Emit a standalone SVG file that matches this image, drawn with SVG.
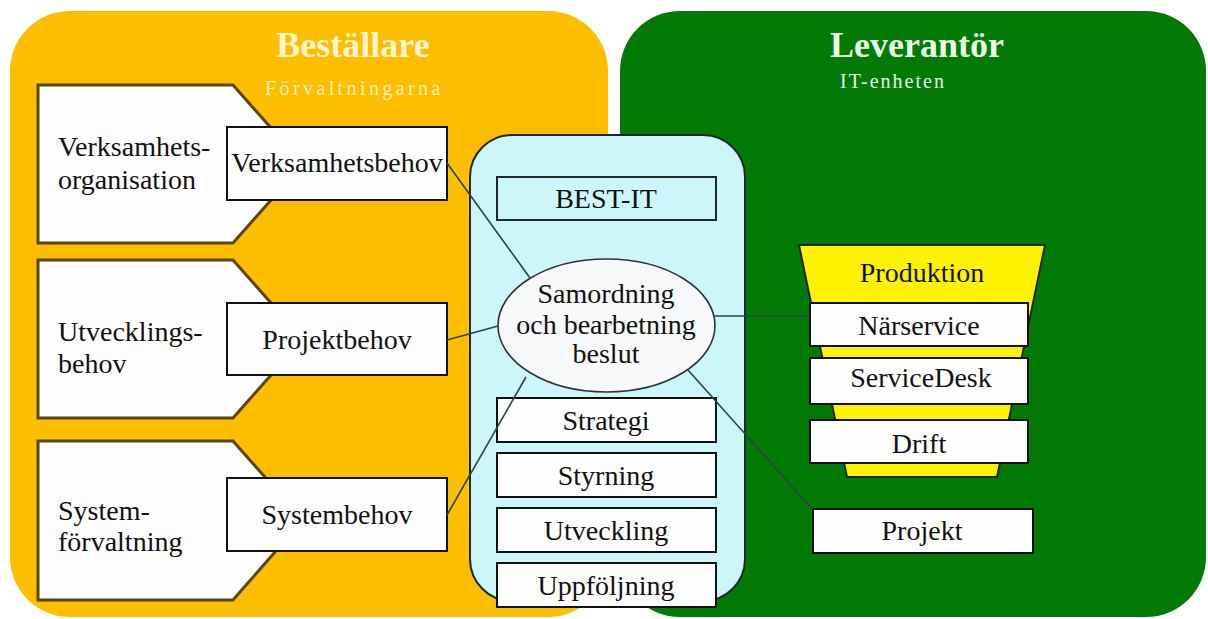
<svg xmlns="http://www.w3.org/2000/svg" width="1208" height="619" viewBox="0 0 1208 619">
<style>
.t{font-family:"Liberation Serif","Times New Roman",serif;font-size:28px;fill:#111}
.c{text-anchor:middle}
.box{fill:#FDFDFD;stroke:#111;stroke-width:2}
.pent{fill:#FDFDFD;stroke:#5A4510;stroke-width:3}
.conn{fill:none;stroke:#2A4444;stroke-width:1.6}
.title{font-family:"Liberation Serif","Times New Roman",serif;font-weight:bold;font-size:36px;text-anchor:middle}
.sub{font-family:"Liberation Serif","Times New Roman",serif;font-size:20px}
</style>
<rect width="1208" height="619" fill="#FFFFFF"/>
<g id="bestallare">
<rect x="10" y="11" width="598" height="606" rx="60" ry="60" fill="#FDBE00"/>
<text class="title" x="353" y="57" fill="#FFF4CC">Beställare</text>
<text class="sub" x="265" y="95" fill="#FFF0B8" letter-spacing="3.4">Förvaltningarna</text>
</g>
<g id="leverantor">
<rect x="620" y="11" width="586" height="606" rx="60" ry="60" fill="#037A06"/>
<text class="title" x="917" y="57" fill="#E8FFE4">Leverantör</text>
<text class="sub" x="840" y="88" fill="#E4F6E4" letter-spacing="2">IT-enheten</text>
</g>
<g id="verksamhetsorganisation">
<polygon class="pent" points="38,85 233,85 303,164 233,243 38,243"/>
<text class="t" x="58" y="156">Verksamhets-</text>
<text class="t" x="58" y="189">organisation</text>
</g>
<g id="utvecklingsbehov">
<polygon class="pent" points="38,260 233,260 303,339 233,418 38,418"/>
<text class="t" x="58" y="341">Utvecklings-</text>
<text class="t" x="58" y="373">behov</text>
</g>
<g id="systemforvaltning">
<polygon class="pent" points="38,441 233,441 303,520 233,600 38,600"/>
<text class="t" x="58" y="520">System-</text>
<text class="t" x="58" y="551">förvaltning</text>
</g>
<g id="verksamhetsbehov">
<rect class="box" x="227" y="127" width="220" height="73"/>
<text class="t c" x="337" y="172">Verksamhetsbehov</text>
</g>
<g id="projektbehov">
<rect class="box" x="227" y="303" width="220" height="72"/>
<text class="t c" x="337" y="349">Projektbehov</text>
</g>
<g id="systembehov">
<rect class="box" x="227" y="478" width="220" height="73"/>
<text class="t c" x="337" y="524">Systembehov</text>
</g>
<g id="best-it-container">
<rect x="470" y="135" width="275" height="466" rx="42" ry="42" fill="#CCF6FA" stroke="#1E2A2A" stroke-width="2"/>
</g>
<g id="best-it">
<rect x="497" y="177" width="219" height="43" fill="#CCF6FA" stroke="#1E2A2A" stroke-width="2"/>
<text class="t c" x="606" y="208">BEST-IT</text>
</g>
<g id="samordning">
<ellipse cx="606.5" cy="325.5" rx="108.5" ry="66.5" fill="#F7F8F9" stroke="#333" stroke-width="1.6"/>
<text class="t c" x="606" y="303">Samordning</text>
<text class="t c" x="606" y="334">och bearbetning</text>
<text class="t c" x="606" y="363">beslut</text>
</g>
<g id="strategi">
<rect class="box" x="497" y="398" width="219" height="44"/>
<text class="t c" x="606" y="430">Strategi</text>
</g>
<g id="styrning">
<rect class="box" x="497" y="453" width="219" height="44"/>
<text class="t c" x="606" y="485">Styrning</text>
</g>
<g id="utveckling">
<rect class="box" x="497" y="508" width="219" height="44"/>
<text class="t c" x="606" y="540">Utveckling</text>
</g>
<g id="uppfoljning">
<rect class="box" x="497" y="563" width="219" height="44"/>
<text class="t c" x="606" y="595">Uppföljning</text>
</g>
<g id="produktion">
<polygon points="799,245 1045,245 997,477 847,477" fill="#FFF200" stroke="#1A2A10" stroke-width="2"/>
<text class="t c" x="922" y="282">Produktion</text>
</g>
<g id="narservice">
<rect class="box" x="810" y="303" width="218" height="43"/>
<text class="t c" x="919" y="335">Närservice</text>
</g>
<g id="servicedesk">
<rect class="box" x="810" y="358" width="218" height="46"/>
<text class="t c" x="921" y="387">ServiceDesk</text>
</g>
<g id="drift">
<rect class="box" x="810" y="420" width="218" height="43"/>
<text class="t c" x="919" y="453">Drift</text>
</g>
<g id="projekt">
<rect class="box" x="813" y="509" width="220" height="44"/>
<text class="t c" x="922" y="540">Projekt</text>
</g>
<g id="connectors">
<line class="conn" x1="447" y1="163" x2="530" y2="278"/>
<line class="conn" x1="447" y1="340" x2="498" y2="326"/>
<line class="conn" x1="447" y1="515" x2="526" y2="377"/>
<line class="conn" x1="714" y1="316" x2="810" y2="316"/>
<line class="conn" x1="688" y1="370" x2="813" y2="510"/>
</g>
</svg>
